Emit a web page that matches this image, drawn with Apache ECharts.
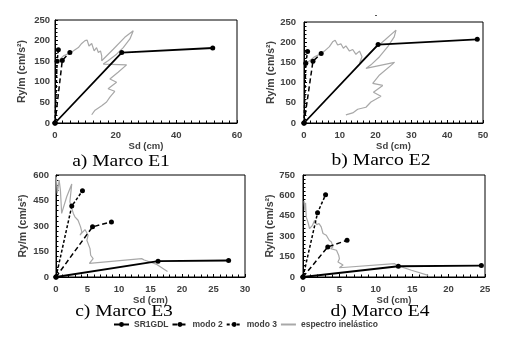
<!DOCTYPE html>
<html>
<head>
<meta charset="utf-8">
<script src="https://cdn.jsdelivr.net/npm/echarts@6/dist/echarts.min.js"></script>
<style>
  html, body { margin: 0; padding: 0; background: #fff; }
  #chart { width: 511px; height: 342px; }
</style>
</head>
<body>
<div id="chart"></div>
<script>
// names and captions
var seriesNames = ['SR1GDL', 'modo 2', 'modo 3', 'espectro inelástico'];
var captions = ['a) Marco E1', 'b) Marco E2', 'c) Marco E3', 'd) Marco E4'];

// axis ranges (max / step) per panel
var xMax = [60, 50, 30, 25];
var xStep = [20, 10, 5, 5];
var yMax = [250, 250, 600, 750];
var yStep = [50, 50, 150, 150];

// Marco E1  [Sd (cm), Ry/m (cm/s2)]
var sr1gdlE1 = [[0, 0], [22, 171], [52, 182]];
var modo2E1 = [[0, 0], [2.4, 152], [4.9, 171]];
var modo3E1 = [[0, 0], [0.7, 150], [1.1, 178]];
var espectroE1 = [[1.0, 150], [2.8, 163], [4.9, 170], [6.0, 175], [7.7, 183], [8.8, 193], [9.9, 200], [10.6, 201],
  [11.2, 187], [12.1, 193], [12.9, 175], [13.7, 183], [14.3, 171], [15.0, 175], [15.4, 163], [15.4, 151],
  [19.2, 179], [23.0, 208], [25.8, 224], [24.7, 204], [22.5, 183], [20.3, 167], [17.5, 151], [15.9, 143],
  [23.6, 141], [20.8, 123], [18.1, 107], [20.3, 99], [17.5, 83], [19.7, 77], [18.1, 63], [17.0, 51],
  [15.4, 42], [13.2, 31], [13.7, 27], [12.1, 20]];

// Marco E2
var sr1gdlE2 = [[0, 0], [20.7, 194], [48.4, 207]];
var modo2E2 = [[0, 0], [2.5, 153], [4.8, 172]];
var modo3E2 = [[0, 0], [0.5, 148], [1.0, 177]];
var espectroE2 = [[1.0, 150], [2.8, 163], [4.8, 172], [5.7, 178], [7.1, 189], [8.0, 201], [8.7, 205], [9.4, 193],
  [10.3, 196], [11.0, 185], [11.7, 191], [12.7, 178], [13.6, 182], [14.5, 170], [15.5, 178], [16.2, 164],
  [15.5, 148], [18.7, 176], [22.5, 205], [25.7, 230], [25.2, 213], [23.4, 189], [21.1, 164], [18.7, 144],
  [17.3, 135], [25.3, 150], [21.1, 119], [19.2, 98], [22.0, 93], [19.4, 76], [21.5, 66], [18.7, 52],
  [17.3, 39], [15.0, 34], [13.6, 25], [11.7, 20]];

// Marco E3
var sr1gdlE3 = [[0, 0], [16.2, 93], [27.4, 97]];
var modo2E3 = [[0, 0], [5.8, 295], [8.8, 324]];
var modo3E3 = [[0, 0], [2.5, 417], [4.2, 507]];
var espectroE3 = [[0.05, 590], [0.2, 492], [0.5, 570], [0.7, 511], [0.9, 374], [1.7, 472], [2.5, 547], [2.2, 442],
  [2.75, 374], [3.0, 354], [3.5, 334], [3.9, 295], [4.1, 265], [3.8, 246], [4.6, 279], [4.9, 285],
  [5.1, 246], [4.9, 216], [5.4, 167], [5.5, 128], [5.9, 108], [5.3, 80], [13.6, 108], [14.0, 100],
  [16.0, 74], [17.7, 32]];

// Marco E4
var sr1gdlE4 = [[0, 0], [13.1, 79], [24.5, 84]];
var modo2E4 = [[0, 0], [3.4, 221], [6.05, 270]];
var modo3E4 = [[0, 0], [2.0, 472], [3.1, 605]];
var espectroE4 = [[0.15, 560], [0.25, 490], [0.35, 545], [0.45, 440], [0.7, 400], [0.9, 355], [1.3, 380], [1.6, 418],
  [1.9, 385], [2.2, 393], [2.5, 369], [2.75, 320], [3.2, 307], [3.6, 270], [3.9, 258], [4.1, 221],
  [3.8, 209], [4.6, 197], [4.9, 160], [5.0, 135], [4.8, 111], [5.5, 88], [5.0, 68], [12.6, 98],
  [12.9, 85], [14.9, 50], [17.2, 12]];

var panelData = [
  [sr1gdlE1, modo2E1, modo3E1, espectroE1],
  [sr1gdlE2, modo2E2, modo3E2, espectroE2],
  [sr1gdlE3, modo2E3, modo3E3, espectroE3],
  [sr1gdlE4, modo2E4, modo3E4, espectroE4]
];

var panels = [
  { grid: { left: 55, top: 20, width: 182, height: 103 }, xMinor: 8, yMinor: 5, yMargin: 5, yGap: 27, xGap: 17, cap: [121, 162] },
  { grid: { left: 304, top: 22, width: 179, height: 101 }, xMinor: 6, yMinor: 5, yMargin: 8, yGap: 25, xGap: 15, cap: [381, 161] },
  { grid: { left: 56, top: 175, width: 189, height: 102 }, xMinor: 5, yMinor: 5, yMargin: 7, yGap: 27, xGap: 12, cap: [124, 312] },
  { grid: { left: 303, top: 175, width: 182, height: 102 }, xMinor: 5, yMinor: 5, yMargin: 8, yGap: 25, xGap: 12, cap: [380, 312] }
];

var labelFont = { fontFamily: 'Liberation Sans', fontWeight: 'bold', color: '#404040' };

var grids = [], xAxes = [], yAxes = [], series = [], graphics = [];

panels.forEach(function (p, i) {
  grids.push(Object.assign({ show: true, borderColor: '#000', borderWidth: 1, backgroundColor: 'transparent' }, p.grid));

  xAxes.push({
    type: 'value', gridIndex: i, min: 0, max: xMax[i], interval: xStep[i],
    name: 'Sd (cm)', nameLocation: 'middle', nameGap: p.xGap,
    nameTextStyle: Object.assign({ fontSize: 9.5 }, labelFont),
    axisLine: { lineStyle: { color: '#000', width: 1 } },
    axisTick: { inside: true, length: 3, lineStyle: { color: '#000' } },
    minorTick: { show: true, splitNumber: p.xMinor, length: 2.5, lineStyle: { color: '#000' } },
    axisLabel: Object.assign({ fontSize: 9.5, margin: 7 }, labelFont),
    splitLine: { show: false }
  });

  yAxes.push({
    type: 'value', gridIndex: i, min: 0, max: yMax[i], interval: yStep[i],
    name: 'Ry/m (cm/s²)', nameLocation: 'middle', nameGap: p.yGap,
    nameTextStyle: Object.assign({ fontSize: 10.5 }, labelFont),
    axisLine: { lineStyle: { color: '#000', width: 1 } },
    axisTick: { inside: true, length: 3, lineStyle: { color: '#000' } },
    minorTick: { show: true, splitNumber: p.yMinor, length: 2.5, lineStyle: { color: '#000' } },
    axisLabel: Object.assign({ fontSize: 9.5, margin: p.yMargin }, labelFont),
    splitLine: { show: false }
  });

  var d = panelData[i];
  // spectrum behind
  series.push({
    name: seriesNames[3], type: 'line', xAxisIndex: i, yAxisIndex: i, data: d[3],
    symbol: 'none', lineStyle: { color: '#a8a8a8', width: 1.2 }, itemStyle: { color: '#a8a8a8' }, z: 1
  });
  series.push({
    name: seriesNames[2], type: 'line', xAxisIndex: i, yAxisIndex: i, data: d[2],
    symbol: 'circle', symbolSize: 5, lineStyle: { color: '#000', width: 1.5, type: [3, 2] }, itemStyle: { color: '#000' }, z: 2
  });
  series.push({
    name: seriesNames[1], type: 'line', xAxisIndex: i, yAxisIndex: i, data: d[1],
    symbol: 'circle', symbolSize: 5, lineStyle: { color: '#000', width: 1.5, type: [5, 3] }, itemStyle: { color: '#000' }, z: 3
  });
  series.push({
    name: seriesNames[0], type: 'line', xAxisIndex: i, yAxisIndex: i, data: d[0],
    symbol: 'circle', symbolSize: 5, lineStyle: { color: '#000', width: 1.8 }, itemStyle: { color: '#000' }, z: 4
  });

  graphics.push({
    type: 'text', x: p.cap[0], y: p.cap[1], scaleX: 1.15,
    style: { text: captions[i], font: '17px "Liberation Serif"', fill: '#000', textAlign: 'center', textVerticalAlign: 'middle' }
  });
});

// small stray mark above panel b
graphics.push({ type: 'rect', shape: { x: 375, y: 15, width: 2, height: 1 }, style: { fill: '#555' } });

var legendData = seriesNames.map(function (n, k) {
  return k === 3 ? { name: n, itemStyle: { opacity: 0 } } : { name: n };
});

var chart = echarts.init(document.getElementById('chart'));
chart.setOption({
  animation: false,
  backgroundColor: '#fff',
  grid: grids,
  xAxis: xAxes,
  yAxis: yAxes,
  series: series,
  graphic: graphics,
  legend: {
    data: legendData, left: 113, top: 320, padding: 0,
    itemWidth: 15, itemHeight: 6, itemGap: 3, selectedMode: false,
    textStyle: { fontFamily: 'Liberation Sans', fontWeight: 'bold', fontSize: 8.5, color: '#404040' }
  }
});
</script>
</body>
</html>
